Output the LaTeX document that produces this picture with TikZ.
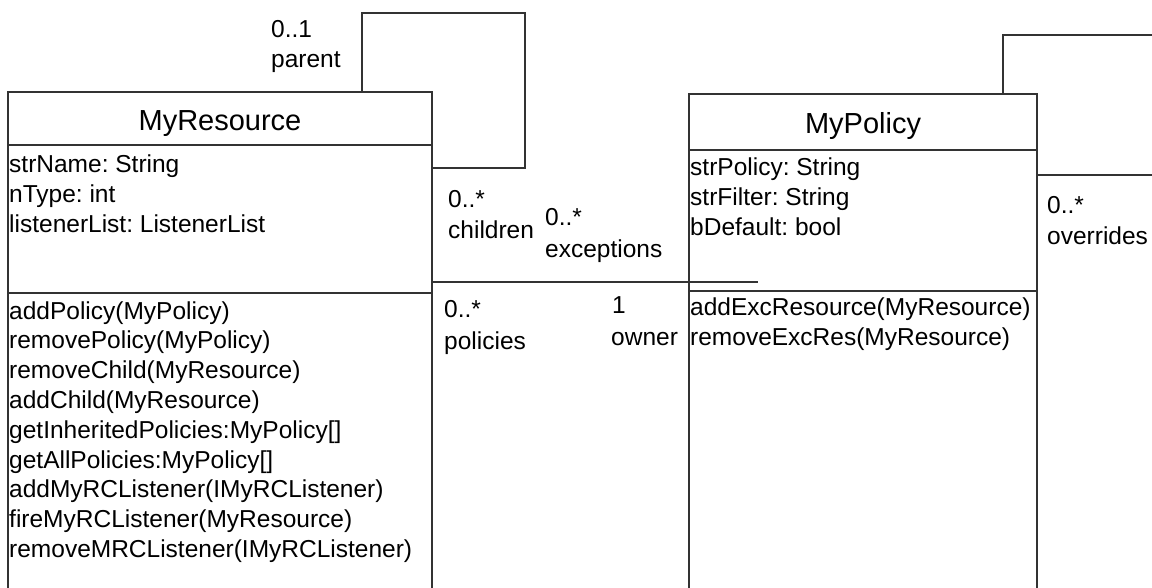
\documentclass[tikz,border=0pt]{standalone}
\usepackage{fontspec}
\setmainfont{Liberation Sans}
\frenchspacing
\begin{document}
\begin{tikzpicture}[x=1pt,y=-1pt,
  line/.style={draw=black!80, line width=1.1pt},
  classbox/.style={line, rectangle, inner sep=0pt, outer sep=0pt},
  txt/.style={inner sep=0pt, anchor=base west, font=\fontsize{24.5}{30}\selectfont},
  ttl/.style={inner sep=0pt, anchor=base, font=\fontsize{29}{34}\selectfont},
]
\useasboundingbox (0,0) rectangle (1152,587);
\clip (0,0) rectangle (1152,587);

% class boxes (they run past the lower edge)
\node[classbox, minimum width=424pt, minimum height=508pt] (res) at (220,346) {};
\node[classbox, minimum width=348pt, minimum height=506pt] (pol) at (863,347) {};

% compartment separators
\coordinate (resT) at (0,145);
\coordinate (resA) at (0,293);
\coordinate (polT) at (0,150);
\coordinate (polA) at (0,291);
\draw[line] (res.west |- resT) -- (res.east |- resT);
\draw[line] (res.west |- resA) -- (res.east |- resA);
\draw[line] (pol.west |- polT) -- (pol.east |- polT);
\draw[line] (pol.west |- polA) -- (pol.east |- polA);

% titles
\node[ttl] (resName) at (220,130) {MyResource};
\node[ttl] (polName) at (863,133) {MyPolicy};

% MyResource attributes
\node[txt] (ra1) at (9,172) {strName: String};
\node[txt] (ra2) at (9,202) {nType: int};
\node[txt] (ra3) at (9,232) {listenerList: ListenerList};

% MyResource operations
\foreach \t [count=\i from 0] in {addPolicy(MyPolicy),removePolicy(MyPolicy),removeChild(MyResource),addChild(MyResource),getInheritedPolicies:MyPolicy[],getAllPolicies:MyPolicy[],addMyRCListener(IMyRCListener),fireMyRCListener(MyResource),removeMRCListener(IMyRCListener)}
  \node[txt] (rm\i) at (9,319+29.8*\i) {\t};

% MyPolicy attributes
\node[txt] (pa1) at (690,175) {strPolicy: String};
\node[txt] (pa2) at (690,205) {strFilter: String};
\node[txt] (pa3) at (690,235) {bDefault: bool};

% MyPolicy operations
\node[txt] (pm1) at (690,315) {addExcResource(MyResource)};
\node[txt] (pm2) at (690,345) {removeExcRes(MyResource)};

% self association parent/children
\coordinate (rl1) at (362,13);
\coordinate (rl2) at (525,168);
\draw[line] (res.north -| rl1) -- (rl1) -| (rl2) -- (res.east |- rl2);

% self association overrides
\coordinate (pl1) at (1003,35);
\coordinate (pl3) at (1160,175);
\draw[line] (pol.north -| pl1) -- (pl1) -| (pl3) -- (pol.east |- pl3);

% resource -- policy association
\coordinate (ae) at (758,282);
\draw[line] (res.east |- ae) -- (ae);

% role labels
\node[txt] (m1) at (271,37) {0..1};
\node[txt] (r1) at (271,67) {parent};
\node[txt] (m2) at (448,207) {0..*};
\node[txt] (r2) at (448,238) {children};
\node[txt] (m3) at (545,225) {0..*};
\node[txt] (r3) at (545,257) {exceptions};
\node[txt] (m4) at (1047,213) {0..*};
\node[txt] (r4) at (1047,244) {overrides};
\node[txt] (m5) at (444,317) {0..*};
\node[txt] (r5) at (444,349) {policies};
\node[txt] (m6) at (612,313) {1};
\node[txt] (r6) at (611,345) {owner};
\end{tikzpicture}
\end{document}
